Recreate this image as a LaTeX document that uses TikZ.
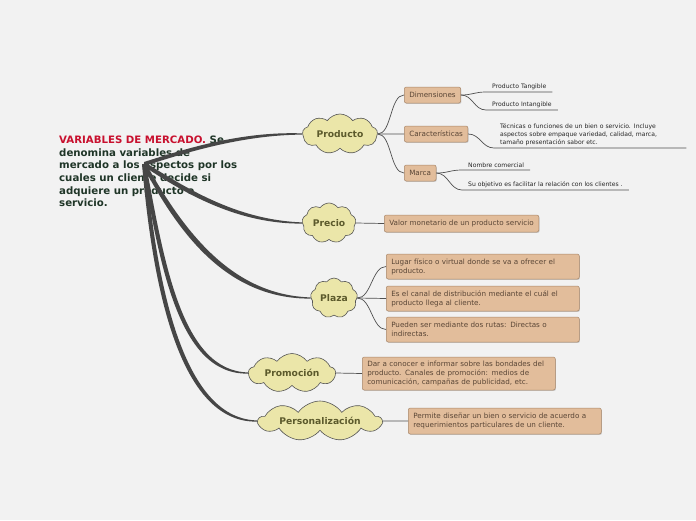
\documentclass[tikz,border=0pt]{standalone}
\usepackage{fontspec}
\setmainfont{DejaVu Sans}
\usepackage{xcolor}
\usepackage{tikz}
\usetikzlibrary{shapes.symbols, shadows, calc}

\definecolor{fondo}{HTML}{F2F2F2}
\definecolor{rojo}{HTML}{C8102E}
\definecolor{verde}{HTML}{1F3527}
\definecolor{nubefondo}{HTML}{EBE6A9}
\definecolor{nubeborde}{HTML}{555555}
\definecolor{nubetexto}{HTML}{5C5A2C}
\definecolor{cajafondo}{HTML}{E2BD9B}
\definecolor{cajaborde}{HTML}{A8876A}
\definecolor{cajatexto}{HTML}{5A4636}
\definecolor{hilocolor}{HTML}{505050}
\definecolor{ramacolor}{HTML}{464646}

\begin{document}
\begin{tikzpicture}[
  x=1pt, y=-1pt,
  nube/.style={cloud, cloud puffs=9, cloud puff arc=110, cloud ignores aspect,
               draw=nubeborde, fill=nubefondo, line width=0.6pt, inner sep=0pt,
               font=\fontsize{9.2}{11}\selectfont\bfseries, text=nubetexto},
  caja/.style={rectangle, rounded corners=2pt, draw=cajaborde, fill=cajafondo, line width=0.5pt,
               text=cajatexto, font=\fontsize{7.2}{9}\selectfont, align=left, anchor=west,
               inner xsep=5pt, inner ysep=2pt,
               drop shadow={shadow xshift=0.7pt, shadow yshift=-0.9pt, opacity=0.35}},
  hoja/.style={font=\fontsize{6.1}{8}\selectfont, text=black!85, align=left, anchor=south west,
               inner xsep=6pt, inner ysep=2.5pt},
  hilo/.style={draw=hilocolor, line width=0.7pt},
  rama/.style={fill=ramacolor}]
  \path[use as bounding box, fill=fondo] (0,0) rectangle (696,520);

  % tema central
  \node[anchor=north west, align=left, inner sep=0pt, text=verde,
        font=\fontsize{10.2}{12.6}\selectfont\bfseries] (titulo) at (59,136)
    {{\color{rojo}VARIABLES DE MERCADO.} Se\\denomina variables de\\mercado a los aspectos por los\\cuales un cliente decide si\\adquiere un producto o\\servicio.};
  \coordinate (hub) at (144,164);

  % nubes
  \node[nube, minimum width=75pt, minimum height=40pt] (producto) at (340,134) {Producto};
  \node[nube, minimum width=54pt, minimum height=40pt] (precio) at (329,223) {Precio};
  \node[nube, minimum width=47pt, minimum height=40pt] (plaza) at (334,298) {Plaza};
  \node[nube, minimum width=87pt, minimum height=39pt] (promo) at (292,373) {Promoción};
  \node[nube, minimum width=123pt, minimum height=40pt] (perso) at (320,421) {Personalización};

  % ramas principales
  \fill[rama] ($(hub)+(0,-2)$) .. controls (182,150) and (240,131) .. ($(producto.west)+(0,-0.6)$)
    -- ($(producto.west)+(0,0.6)$) .. controls (240,135) and (182,154) .. ($(hub)+(0,2)$) -- cycle;
  \fill[rama] ($(hub)+(1.4,-1.4)$) .. controls (192,192) and (240,220) .. ($(precio.west)+(0,-0.6)$)
    -- ($(precio.west)+(0,0.6)$) .. controls (240,224) and (188,196) .. ($(hub)+(-1.4,1.4)$) -- cycle;
  \fill[rama] ($(hub)+(1.4,-1.4)$) .. controls (184,232) and (232,295) .. ($(plaza.west)+(0,-0.6)$)
    -- ($(plaza.west)+(0,0.6)$) .. controls (228,299) and (180,236) .. ($(hub)+(-1.4,1.4)$) -- cycle;
  \fill[rama] ($(hub)+(2,0)$) .. controls (164,262) and (182,371) .. ($(promo.west)+(0,-0.6)$)
    -- ($(promo.west)+(0,0.6)$) .. controls (178,375) and (160,264) .. ($(hub)+(-2,0)$) -- cycle;
  \fill[rama] ($(hub)+(2,0)$) .. controls (158,302) and (188,419) .. ($(perso.west)+(0,-0.6)$)
    -- ($(perso.west)+(0,0.6)$) .. controls (184,423) and (154,304) .. ($(hub)+(-2,0)$) -- cycle;

  % Producto
  \node[caja, minimum height=16pt] (dim) at (404,95) {Dimensiones};
  \node[caja, minimum height=16pt] (carac) at (404,134) {Características};
  \node[caja, minimum height=16pt] (marca) at (404,173) {Marca};
  \draw[hilo] (producto.east) .. controls +(14,0) and +(-14,0) .. (dim.west);
  \draw[hilo] (producto.east) .. controls +(14,0) and +(-14,0) .. (carac.west);
  \draw[hilo] (producto.east) .. controls +(14,0) and +(-14,0) .. (marca.west);

  \node[hoja] (tang) at (486,92) {Producto Tangible};
  \node[hoja] (intang) at (486,110) {Producto Intangible};
  \node[hoja, text width=180pt] (tecnicas) at (494,148)
    {Técnicas o funciones de un bien o servicio. Incluye\\aspectos sobre empaque variedad, calidad, marca,\\tamaño presentación sabor etc.};
  \node[hoja] (nombre) at (462,170) {Nombre comercial};
  \node[hoja] (objetivo) at (462,190) {Su objetivo es facilitar la relación con los clientes .};
  \draw[hilo] (dim.east) .. controls +(12,0) and +(-12,0) .. (tang.south west) -- (tang.south east);
  \draw[hilo] (dim.east) .. controls +(12,0) and +(-12,0) .. (intang.south west) -- (intang.south east);
  \draw[hilo] (carac.east) .. controls +(12,0) and +(-12,0) .. (tecnicas.south west) -- (tecnicas.south east);
  \draw[hilo] (marca.east) .. controls +(12,0) and +(-12,0) .. (nombre.south west) -- (nombre.south east);
  \draw[hilo] (marca.east) .. controls +(12,0) and +(-12,0) .. (objetivo.south west) -- (objetivo.south east);

  % Precio
  \node[caja, minimum height=17pt] (valor) at (384,223.5) {Valor monetario de un producto servicio};
  \draw[hilo] (precio.east) -- (valor.west);

  % Plaza
  \node[caja, text width=183pt, minimum height=25pt] (lugar) at (386,266.5)
    {Lugar físico o virtual donde se va a ofrecer el\\producto.};
  \node[caja, text width=183pt, minimum height=25pt] (canal) at (386,298.5)
    {Es el canal de distribución mediante el cuál el\\producto llega al cliente.};
  \node[caja, text width=183pt, minimum height=25pt] (rutas) at (386,329.5)
    {Pueden ser mediante dos rutas: Directas o\\indirectas.};
  \draw[hilo] (plaza.east) .. controls +(14,0) and +(-14,0) .. (lugar.west);
  \draw[hilo] (plaza.east) .. controls +(14,0) and +(-14,0) .. (canal.west);
  \draw[hilo] (plaza.east) .. controls +(14,0) and +(-14,0) .. (rutas.west);

  % Promocion
  \node[caja, text width=183pt, minimum height=33pt] (dar) at (362,373.5)
    {Dar a conocer  e informar sobre las bondades del\\producto. Canales de promoción: medios de\\comunicación, campañas de publicidad, etc.};
  \draw[hilo] (promo.east) -- (dar.west);

  % Personalizacion
  \node[caja, text width=183pt, minimum height=26pt] (permite) at (408,421)
    {Permite diseñar  un bien o servicio de acuerdo a\\requerimientos particulares de un cliente.};
  \draw[hilo] (perso.east) -- (permite.west);
\end{tikzpicture}
\end{document}
